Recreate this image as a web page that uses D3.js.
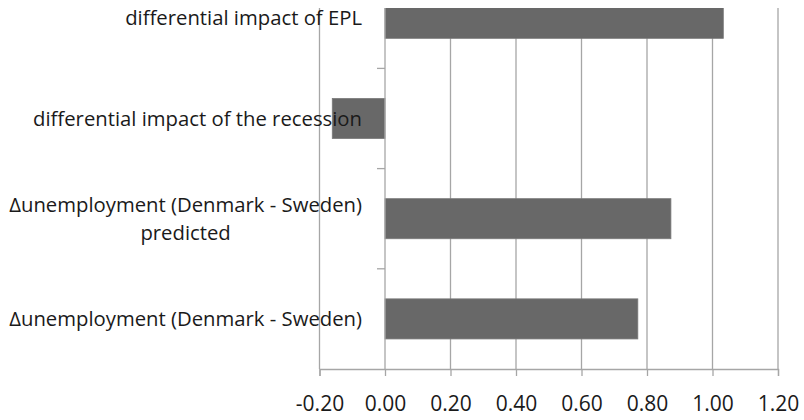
<!DOCTYPE html>
<html>
<head>
<meta charset="utf-8">
<script src="https://cdn.jsdelivr.net/npm/d3@7"></script>
<style>
  html, body { margin: 0; padding: 0; background: #fff; }
  svg { display: block; }
</style>
</head>
<body>
<svg id="chart" width="804" height="420"></svg>
<script>
// Categories, top to bottom (line breaks mark wrapped labels)
const categories = [
  "differential impact of EPL",
  "differential impact of the recession",
  "\u0394unemployment (Denmark - Sweden)\npredicted",
  "\u0394unemployment (Denmark - Sweden)"
];
const values = [1.033, -0.161, 0.873, 0.772];
const xTicks = [-0.2, 0, 0.2, 0.4, 0.6, 0.8, 1.0, 1.2];

const svg = d3.select("#chart");
const plot = { left: 319.5, right: 778, top: 8, bottom: 369 };
const font = "'Open Sans', Lato, 'Noto Sans', sans-serif";

const x = d3.scaleLinear().domain([-0.2, 1.2]).range([plot.left, plot.right]);
// bands extend above the visible plot top; the top bar is clipped
const step = 100.2;
const y = d3.scaleBand()
  .domain(categories)
  .range([plot.bottom - step * categories.length, plot.bottom])
  .paddingInner(0.6)
  .paddingOuter(0.3);

const fmt = d3.formatLocale({decimal: ".", thousands: ",", grouping: [3], currency: ["", ""], minus: "-"}).format(".2f");

svg.append("defs").append("clipPath").attr("id", "plotclip")
  .append("rect")
  .attr("x", plot.left - 60).attr("y", plot.top)
  .attr("width", plot.right - plot.left + 120).attr("height", plot.bottom - plot.top);

const gridColor = "#a6a6a6";

// vertical gridlines
svg.append("g").selectAll("line")
  .data(xTicks.filter(t => t !== 0))
  .join("line")
  .attr("x1", d => x(d)).attr("x2", d => x(d))
  .attr("y1", plot.top).attr("y2", plot.bottom)
  .attr("stroke", gridColor).attr("stroke-width", 1.3);

// bottom axis
const xAxis = svg.append("g")
  .attr("transform", `translate(0,${plot.bottom})`)
  .call(d3.axisBottom(x).tickValues(xTicks).tickFormat(fmt).tickSize(7).tickPadding(20));
xAxis.select(".domain").attr("stroke", gridColor).attr("stroke-width", 1.3);
xAxis.selectAll(".tick line").attr("stroke", gridColor).attr("stroke-width", 1.3);
xAxis.selectAll(".tick text")
  .attr("font-family", font)
  .attr("font-size", 21)
  .attr("fill", "#1a1a1a");

// bars
svg.append("g").attr("clip-path", "url(#plotclip)")
  .selectAll("rect")
  .data(categories.map((c, i) => ({c, v: values[i]})))
  .join("rect")
  .attr("x", d => x(Math.min(0, d.v)))
  .attr("width", d => Math.abs(x(d.v) - x(0)))
  .attr("y", d => y(d.c))
  .attr("height", y.bandwidth())
  .attr("fill", "#686868")
  .attr("stroke", "#7a7a7a")
  .attr("stroke-width", 0.8);

// category axis at zero, ticks between bands
const x0 = x(0);
svg.append("line")
  .attr("x1", x0).attr("x2", x0)
  .attr("y1", plot.top).attr("y2", plot.bottom)
  .attr("stroke", gridColor).attr("stroke-width", 1.3);
const bounds = categories.slice(1).map(c => y(c) - (y.step() - y.bandwidth()) / 2);
svg.append("g").selectAll("line")
  .data(bounds)
  .join("line")
  .attr("x1", x0 - 8).attr("x2", x0)
  .attr("y1", d => d).attr("y2", d => d)
  .attr("stroke", gridColor).attr("stroke-width", 1.3);

// category labels
const lineH = 28;
const labels = svg.append("g")
  .attr("font-family", font)
  .attr("font-size", 20.3)
  .attr("fill", "#1a1a1a")
  .attr("text-anchor", "end");
categories.forEach(c => {
  const lines = c.split("\n");
  const cy = y(c) + y.bandwidth() / 2;
  const t = labels.append("text");
  lines.forEach((ln, i) => {
    t.append("tspan")
      .attr("x", 362)
      .attr("y", cy + (i - (lines.length - 1) / 2) * lineH)
      .attr("dy", "0.35em")
      .attr("text-anchor", i === 0 ? "end" : "middle")
      .text(ln);
  });
});
// centre second lines of wrapped labels under the first line
labels.selectAll("text").each(function () {
  const spans = d3.select(this).selectAll("tspan").nodes();
  if (spans.length > 1) {
    const w = spans[0].getComputedTextLength();
    spans.slice(1).forEach(s => d3.select(s).attr("x", 362 - w / 2));
  }
});
</script>
</body>
</html>
